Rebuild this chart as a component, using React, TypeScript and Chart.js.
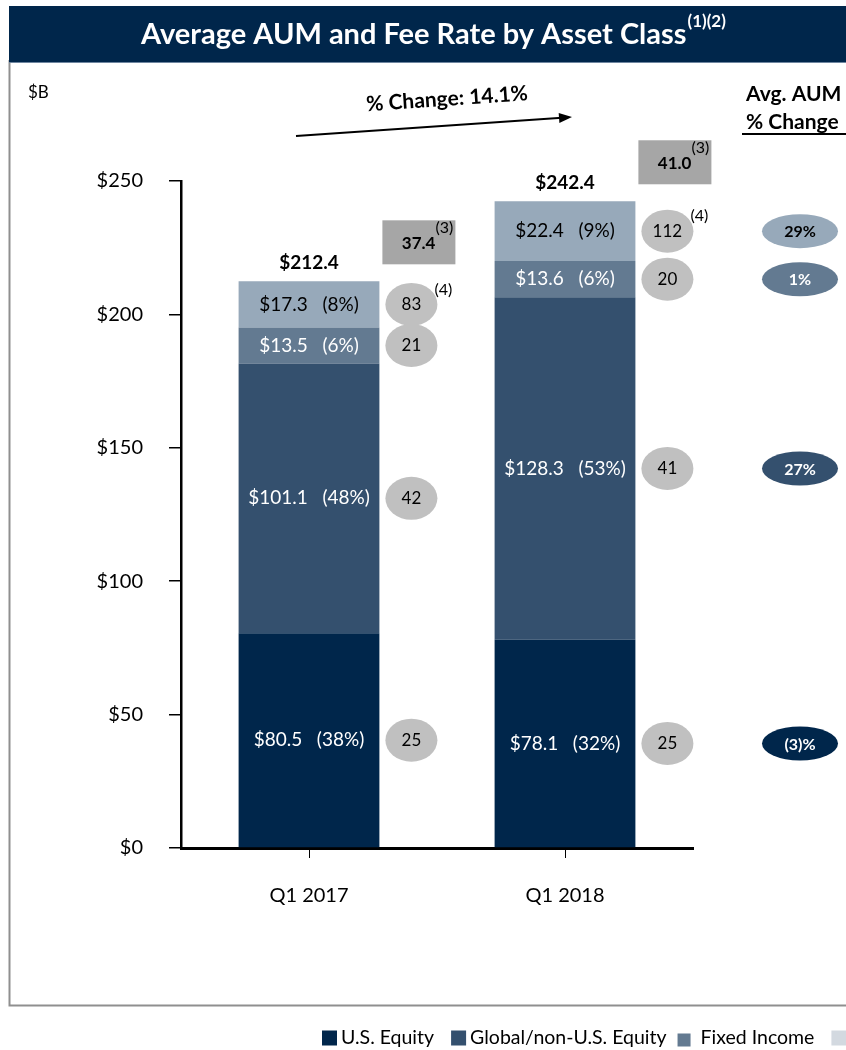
import React, { useEffect, useRef } from "react";
import { Chart, registerables } from "chart.js";

Chart.register(...registerables);

// ---------- data ----------
const categories = ["Q1 2017", "Q1 2018"];
const seriesNames = ["U.S. Equity", "Global/non-U.S. Equity", "Fixed Income", "Alternatives"];
const usEquity = [80.5, 78.1];
const globalEquity = [101.1, 128.3];
const fixedIncome = [13.5, 13.6];
const alternatives = [17.3, 22.4];
// fee rates (bps)
const usFee = [25, 25];
const globalFee = [42, 41];
const fixedFee = [21, 20];
const altFee = [83, 112];
// boxed values above the fee rates
const boxValues = [37.4, 41.0];
const yTickValues = [0, 50, 100, 150, 200, 250];

// ---------- styles ----------
const NAVY = "#00264B";
const seriesColors = ["#00264B", "#34506E", "#637A91", "#97A9BA"];
const segTextColors = ["#ffffff", "#ffffff", "#ffffff", "#000000"];
const FONT = "Lato, 'Open Sans', sans-serif";

const allSeries = [usEquity, globalEquity, fixedIncome, alternatives];
const allFees = [usFee, globalFee, fixedFee, altFee];

function fmtPct(v: number) {
  const r = Math.round(v);
  return r < 0 ? `(${-r})%` : `${r}%`;
}

const decorPlugin = {
  id: "decor",
  beforeDraw(chart: any) {
    const ctx = chart.ctx as CanvasRenderingContext2D;
    ctx.save();
    ctx.fillStyle = "#ffffff";
    ctx.fillRect(0, 0, chart.width, chart.height);
    // border box
    ctx.strokeStyle = "#8f8f8f";
    ctx.lineWidth = 2;
    ctx.beginPath();
    ctx.moveTo(9.5, 60);
    ctx.lineTo(9.5, 1005.5);
    ctx.lineTo(846, 1005.5);
    ctx.stroke();
    // title bar
    ctx.fillStyle = NAVY;
    ctx.fillRect(9, 6, 837, 57);
    ctx.fillStyle = "#6f86a0";
    ctx.fillRect(9, 62, 837, 1);
    // title
    ctx.fillStyle = "#ffffff";
    ctx.textBaseline = "middle";
    const title = "Average AUM and Fee Rate by Asset Class";
    const sup = "(1)(2)";
    ctx.font = `bold 29px ${FONT}`;
    const tw = ctx.measureText(title).width;
    ctx.font = `bold 17px ${FONT}`;
    const sw = ctx.measureText(sup).width;
    const startX = 433 - (tw + sw) / 2;
    ctx.font = `bold 29px ${FONT}`;
    ctx.textAlign = "left";
    ctx.fillText(title, startX, 35);
    ctx.font = `bold 17px ${FONT}`;
    ctx.fillText(sup, startX + tw + 1, 22);
    ctx.restore();
  },
  afterDatasetsDraw(chart: any) {
    const ctx = chart.ctx as CanvasRenderingContext2D;
    const yScale = chart.scales.y;
    ctx.save();
    ctx.textBaseline = "middle";

    const mids: number[][] = [];
    categories.forEach((_, i) => {
      const total = allSeries.reduce((s, a) => s + a[i], 0);
      let barRight = 0;
      let cx = 0;
      mids[i] = [];
      allSeries.forEach((arr, d) => {
        const el = chart.getDatasetMeta(d).data[i];
        const props = el.getProps(["x", "y", "base", "width"], true);
        cx = props.x;
        barRight = props.x + props.width / 2;
        const my = (props.y + props.base) / 2;
        mids[i][d] = my;
        // segment label
        ctx.fillStyle = segTextColors[d];
        ctx.font = `19px ${FONT}`;
        ctx.textAlign = "center";
        const pct = Math.round((arr[i] / total) * 100);
        ctx.fillText(`$${arr[i].toFixed(1)}   (${pct}%)`, cx, my);
        // fee ellipse
        const ex = barRight + 32;
        ctx.fillStyle = "#C0C0C0";
        ctx.beginPath();
        ctx.ellipse(ex, my, 26, 21.5, 0, 0, Math.PI * 2);
        ctx.fill();
        ctx.fillStyle = "#000000";
        ctx.font = `17px ${FONT}`;
        ctx.fillText(String(allFees[d][i]), ex, my);
        if (d === 3) {
          ctx.font = `16px ${FONT}`;
          ctx.textAlign = "left";
          ctx.fillText("(4)", ex + 23, my - 15);
        }
      });
      // total label
      const ty = yScale.getPixelForValue(total);
      ctx.fillStyle = "#000000";
      ctx.font = `bold 19px ${FONT}`;
      ctx.textAlign = "center";
      ctx.fillText(`$${total.toFixed(1)}`, cx, ty - 18);
      // grey box
      const bx = barRight + 3;
      const bBottom = ty - 17;
      ctx.fillStyle = "#A6A6A6";
      ctx.fillRect(bx, bBottom - 44, 73, 44);
      ctx.fillStyle = "#000000";
      ctx.font = `bold 17px ${FONT}`;
      ctx.textAlign = "right";
      ctx.fillText(boxValues[i].toFixed(1), bx + 53, bBottom - 21);
      ctx.font = `16px ${FONT}`;
      ctx.textAlign = "left";
      ctx.fillText("(3)", bx + 53, bBottom - 36);
    });

    // right-side % change ellipses
    allSeries.forEach((arr, d) => {
      const ch = (arr[1] / arr[0] - 1) * 100;
      const y = mids[1][d];
      ctx.fillStyle = seriesColors[d];
      ctx.beginPath();
      ctx.ellipse(800, y, 38, 17, 0, 0, Math.PI * 2);
      ctx.fill();
      ctx.fillStyle = d === 3 ? "#000000" : "#ffffff";
      ctx.font = `bold 16px ${FONT}`;
      ctx.textAlign = "center";
      ctx.fillText(fmtPct(ch), 800, y + 1);
    });

    // header texts
    ctx.fillStyle = "#000000";
    ctx.textAlign = "left";
    ctx.font = `17px ${FONT}`;
    ctx.fillText("$B", 28, 93);
    ctx.font = `bold 21px ${FONT}`;
    ctx.fillText("Avg. AUM", 746, 94);
    ctx.fillText("% Change", 746, 122);
    ctx.fillRect(742, 133, 104, 2);

    // total change arrow
    const t0 = allSeries.reduce((s, a) => s + a[0], 0);
    const t1 = allSeries.reduce((s, a) => s + a[1], 0);
    const totalChange = (t1 / t0 - 1) * 100;
    const x0 = 296, y0 = 136, x1 = 572, y1 = 117;
    ctx.strokeStyle = "#000000";
    ctx.lineWidth = 2;
    ctx.beginPath();
    ctx.moveTo(x0, y0);
    ctx.lineTo(x1 - 10, y1 + 0.7);
    ctx.stroke();
    const ang = Math.atan2(y1 - y0, x1 - x0);
    ctx.beginPath();
    ctx.moveTo(x1, y1);
    ctx.lineTo(x1 - 13 * Math.cos(ang) + 5 * Math.sin(ang), y1 - 13 * Math.sin(ang) - 5 * Math.cos(ang));
    ctx.lineTo(x1 - 13 * Math.cos(ang) - 5 * Math.sin(ang), y1 - 13 * Math.sin(ang) + 5 * Math.cos(ang));
    ctx.closePath();
    ctx.fillStyle = "#000000";
    ctx.fill();
    ctx.save();
    ctx.translate(447, 99);
    ctx.rotate(ang);
    ctx.font = `bold 21px ${FONT}`;
    ctx.textAlign = "center";
    ctx.fillText(`% Change: ${totalChange.toFixed(1)}%`, 0, 0);
    ctx.restore();

    // legend
    let lx = 322;
    const ly = 1038;
    seriesNames.forEach((name, d) => {
      ctx.fillStyle = d === 3 ? "#D3D9E0" : seriesColors[d];
      const sq = d === 2 ? 13 : 15;
      ctx.fillRect(lx, ly - sq / 2 + (d === 2 ? 2 : 0), sq, sq);
      lx += sq + (d === 2 ? 10 : 4);
      ctx.fillStyle = "#000000";
      ctx.font = `19.5px ${FONT}`;
      ctx.textAlign = "left";
      ctx.fillText(name, lx, ly);
      lx += ctx.measureText(name).width + (d === 1 ? 11 : 17);
    });
    ctx.restore();
  },
};

export default function App() {
  const canvasRef = useRef<HTMLCanvasElement | null>(null);
  useEffect(() => {
    if (!canvasRef.current) return;
    Chart.defaults.font.family = FONT;
    const chart = new Chart(canvasRef.current, {
      type: "bar",
      data: {
        labels: categories,
        datasets: allSeries.map((arr, d) => ({
          label: seriesNames[d],
          data: arr,
          backgroundColor: seriesColors[d],
          borderWidth: 0,
          barPercentage: 0.55,
          categoryPercentage: 1,
        })),
      },
      options: {
        responsive: false,
        maintainAspectRatio: false,
        animation: false,
        devicePixelRatio: 1,
        layout: { padding: { left: 0, top: 181, right: 153, bottom: 142 } },
        plugins: { legend: { display: false }, tooltip: { enabled: false }, title: { display: false } },
        scales: {
          x: {
            stacked: true,
            offset: true,
            afterFit: (s: any) => { s.height = 60; },
            grid: { display: true, offset: false, drawOnChartArea: false, drawTicks: true, tickLength: 10, color: "#000000", lineWidth: 1 },
            border: { display: true, color: "#000000", width: 3 },
            ticks: { color: "#000000", font: { size: 20, family: FONT }, padding: 26 },
          },
          y: {
            stacked: true,
            min: 0,
            max: 250,
            afterFit: (s: any) => { s.width = 181; },
            afterBuildTicks: (s: any) => { s.ticks = yTickValues.map((v) => ({ value: v })); },
            grid: { display: true, drawOnChartArea: false, drawTicks: true, tickLength: 12, color: "#000000", lineWidth: 1.5 },
            border: { display: true, color: "#000000", width: 2.5 },
            ticks: { color: "#000000", font: { size: 20, family: FONT }, padding: 26, callback: (v: any) => `$${v}` },
          },
        },
      },
      plugins: [decorPlugin],
    });
    return () => chart.destroy();
  }, []);
  return (
    <div style={{ position: "fixed", left: 0, top: 0, width: 846, height: 1050 }}>
      <canvas ref={canvasRef} width={846} height={1050} style={{ width: 846, height: 1050, display: "block" }} />
    </div>
  );
}
